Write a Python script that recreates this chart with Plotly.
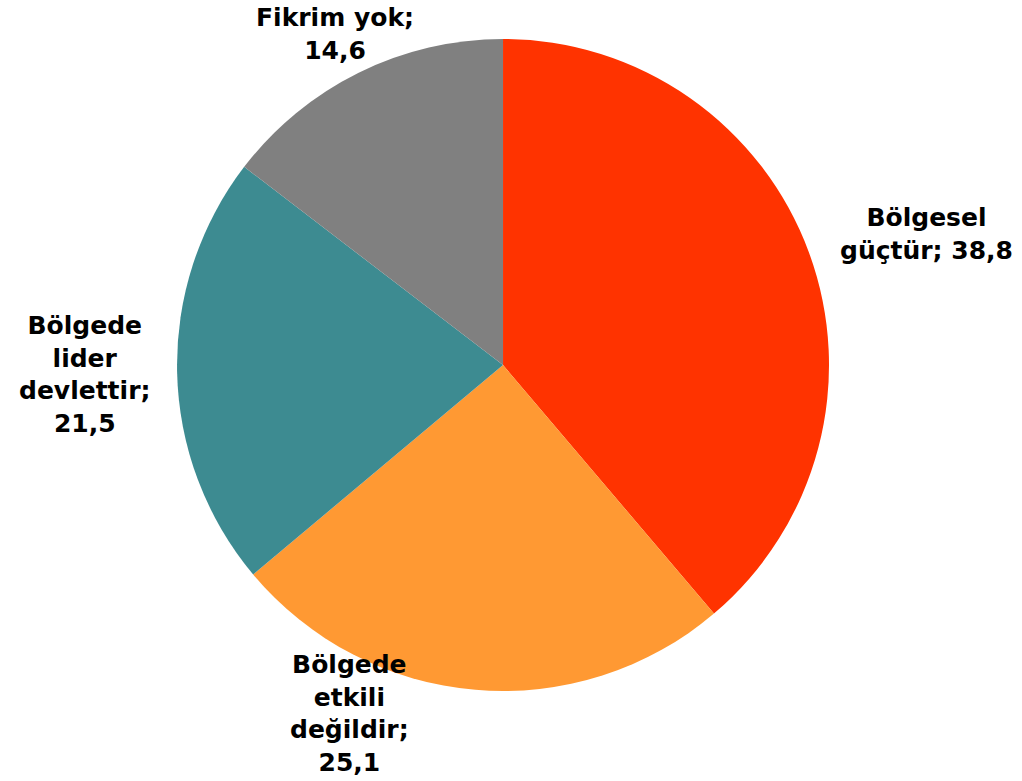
import plotly.graph_objects as go

# Survey answers and their shares (%)
categories = ["Bölgesel güçtür", "Bölgede etkili değildir", "Bölgede lider devlettir", "Fikrim yok"]
values = [38.8, 25.1, 21.5, 14.6]
colors = ["#FF3300", "#FF9933", "#3D8B91", "#808080"]

# Label text broken across lines the way it is set beside each slice
label_lines = [
    ["Bölgesel", "güçtür; {v}"],
    ["Bölgede", "etkili", "değildir;", "{v}"],
    ["Bölgede", "lider", "devlettir;", "{v}"],
    ["Fikrim yok;", "{v}"],
]
# Label anchor points in paper coordinates
label_pos = [(0.907, 0.700), (0.342, 0.087), (0.083, 0.520), (0.328, 0.957)]


def fmt(v):
    return f"{v:.1f}".replace(".", ",")


fig = go.Figure(
    go.Pie(
        labels=categories,
        values=values,
        sort=False,
        direction="clockwise",
        rotation=0,
        marker=dict(colors=colors, line=dict(width=0)),
        textinfo="none",
        hoverinfo="label+value",
        showlegend=False,
        domain=dict(x=[0.1732, 0.8112], y=[0.1152, 0.9500]),
    )
)

for lines, v, (x, y) in zip(label_lines, values, label_pos):
    fig.add_annotation(
        x=x, y=y, xref="paper", yref="paper",
        text="<br>".join(line.format(v=fmt(v)) for line in lines),
        showarrow=False, xanchor="center", yanchor="middle", align="center",
        font=dict(family="DejaVu Sans", size=25, color="#000000", weight="bold"),
    )

fig.update_layout(
    width=1022, height=781,
    margin=dict(l=0, r=0, t=0, b=0),
    paper_bgcolor="#FFFFFF", plot_bgcolor="#FFFFFF",
)

fig.write_html("out.html")
